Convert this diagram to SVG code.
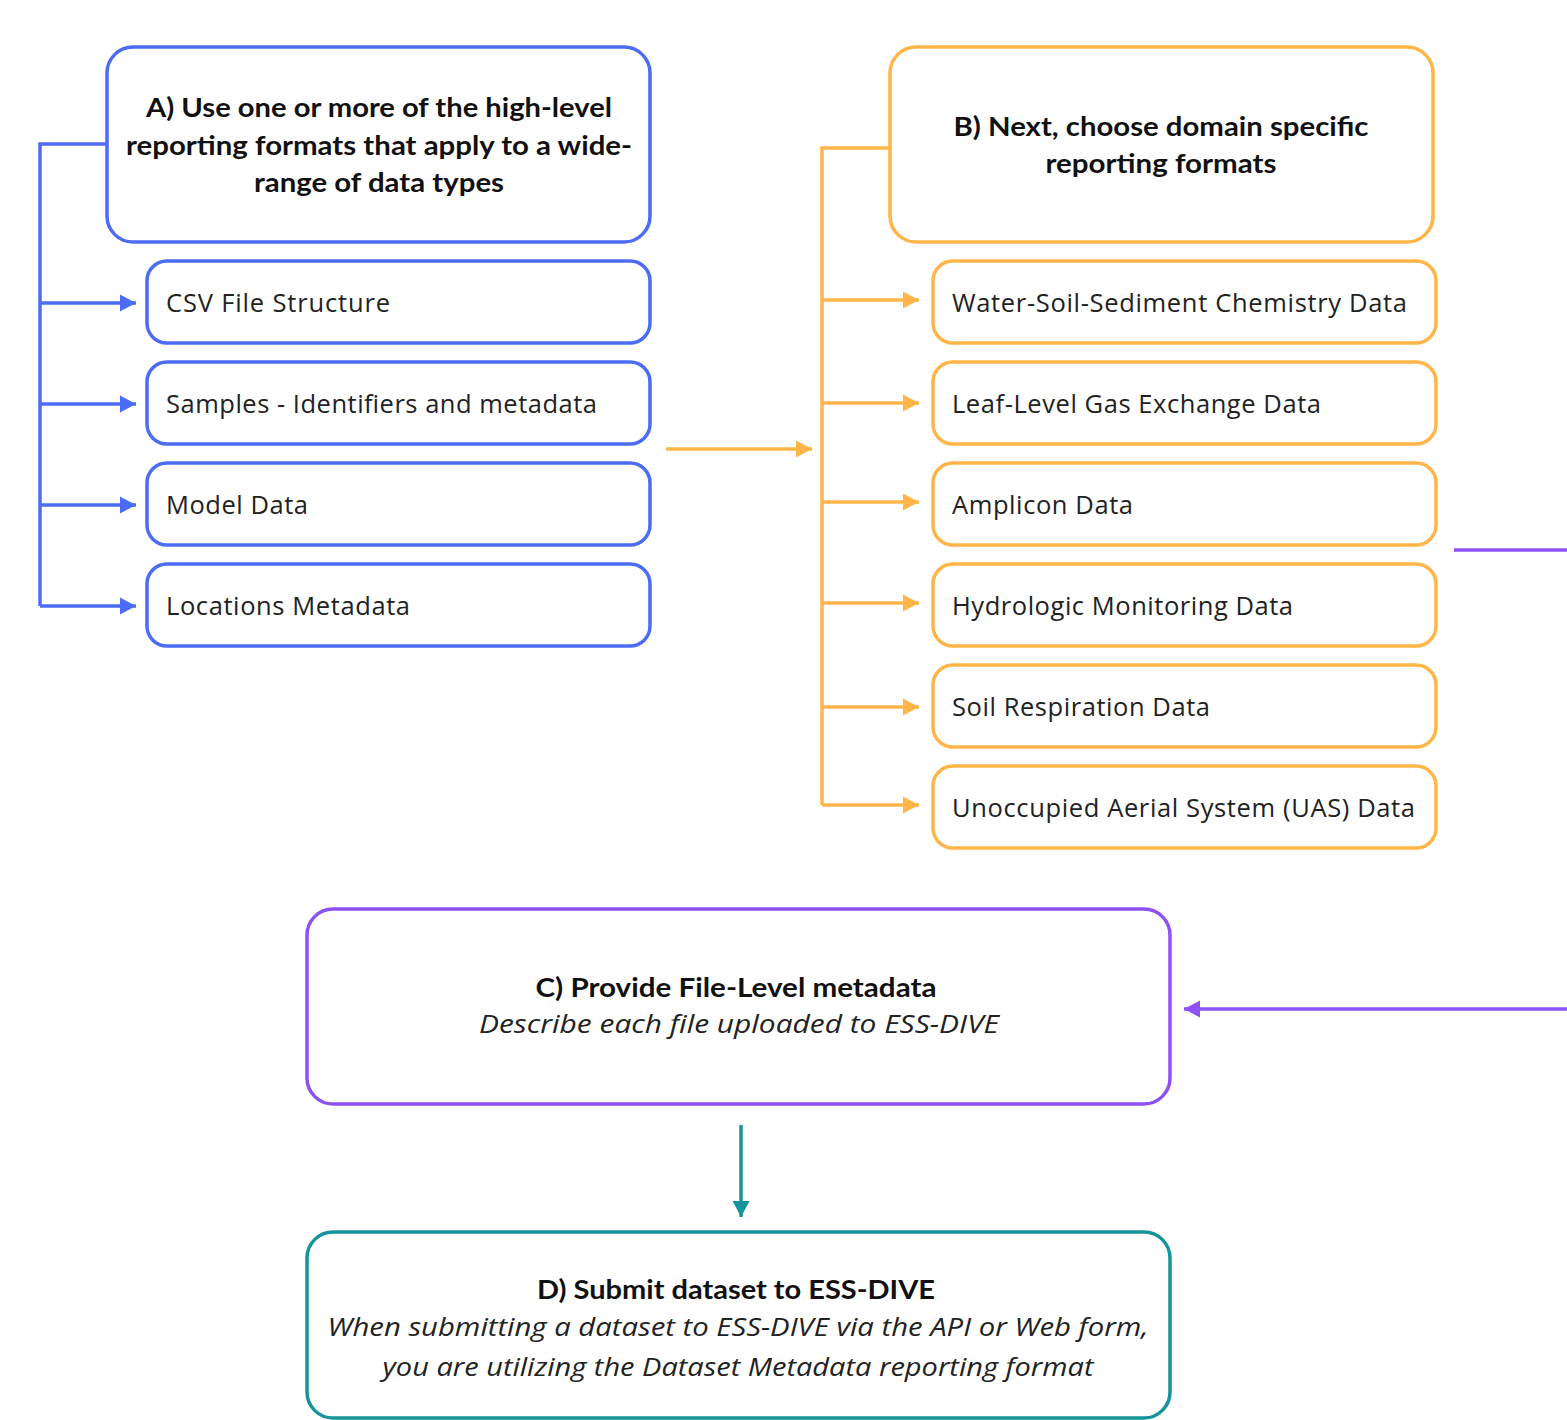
<svg xmlns="http://www.w3.org/2000/svg" width="1567" height="1420" viewBox="0 0 1567 1420">
<style>
.box{fill:#fff;stroke-width:3.5}
.blue{stroke:#4d6cf5}
.orange{stroke:#ffb548}
.purple{stroke:#8c52f5}
.teal{stroke:#15959b}
.ln{fill:none;stroke-width:3.5}
.t{font-family:"Open Sans","Noto Sans",sans-serif;font-size:25.5px;fill:#222}
.b{font-family:Lato,"Open Sans",sans-serif;font-weight:bold;font-size:26px;fill:#111}
.i{font-family:"Open Sans","Noto Sans",sans-serif;font-style:italic;font-size:25px;fill:#222}
</style>
<defs>
<marker id="ab" markerUnits="userSpaceOnUse" markerWidth="18" markerHeight="20" refX="16" refY="10" orient="auto"><path d="M0,1.5 L16,10 L0,18.5 Z" fill="#4d6cf5"/></marker>
<marker id="ao" markerUnits="userSpaceOnUse" markerWidth="18" markerHeight="20" refX="16" refY="10" orient="auto"><path d="M0,1.5 L16,10 L0,18.5 Z" fill="#ffb548"/></marker>
<marker id="ap" markerUnits="userSpaceOnUse" markerWidth="18" markerHeight="20" refX="16" refY="10" orient="auto"><path d="M0,1.5 L16,10 L0,18.5 Z" fill="#8c52f5"/></marker>
<marker id="at" markerUnits="userSpaceOnUse" markerWidth="18" markerHeight="20" refX="16" refY="10" orient="auto"><path d="M0,1.5 L16,10 L0,18.5 Z" fill="#15959b"/></marker>
</defs>

<g id="connectors">
<path class="ln blue" d="M107,144 H40 V606"/>
<line class="ln blue" x1="40" y1="303" x2="136" y2="303" marker-end="url(#ab)"/>
<line class="ln blue" x1="40" y1="404" x2="136" y2="404" marker-end="url(#ab)"/>
<line class="ln blue" x1="40" y1="505" x2="136" y2="505" marker-end="url(#ab)"/>
<line class="ln blue" x1="40" y1="606" x2="136" y2="606" marker-end="url(#ab)"/>
<path class="ln orange" d="M890,148 H822 V805"/>
<line class="ln orange" x1="822" y1="300" x2="919" y2="300" marker-end="url(#ao)"/>
<line class="ln orange" x1="822" y1="403" x2="919" y2="403" marker-end="url(#ao)"/>
<line class="ln orange" x1="822" y1="502" x2="919" y2="502" marker-end="url(#ao)"/>
<line class="ln orange" x1="822" y1="603" x2="919" y2="603" marker-end="url(#ao)"/>
<line class="ln orange" x1="822" y1="707" x2="919" y2="707" marker-end="url(#ao)"/>
<line class="ln orange" x1="822" y1="805" x2="919" y2="805" marker-end="url(#ao)"/>
<line class="ln orange" x1="666" y1="449" x2="812" y2="449" marker-end="url(#ao)"/>
<line class="ln purple" x1="1454" y1="550" x2="1567" y2="550"/>
<line class="ln purple" x1="1567" y1="1009" x2="1184" y2="1009" marker-end="url(#ap)"/>
<line class="ln teal" x1="741" y1="1125" x2="741" y2="1217" marker-end="url(#at)"/>
</g>

<g id="nodeA">
<rect class="box blue" x="107" y="47" width="543" height="195" rx="26"/>
<text class="b" x="379" y="117" text-anchor="middle" textLength="466" lengthAdjust="spacingAndGlyphs">A) Use one or more of the high-level</text>
<text class="b" x="379" y="155" text-anchor="middle" textLength="506" lengthAdjust="spacingAndGlyphs">reporting formats that apply to a wide-</text>
<text class="b" x="379" y="192" text-anchor="middle" textLength="250" lengthAdjust="spacingAndGlyphs">range of data types</text>
</g>
<g id="nodeA1"><rect class="box blue" x="147" y="261" width="503" height="82" rx="20"/><text class="t" x="166" y="312" textLength="224">CSV File Structure</text></g>
<g id="nodeA2"><rect class="box blue" x="147" y="362" width="503" height="82" rx="20"/><text class="t" x="166" y="413" textLength="431">Samples - Identifiers and metadata</text></g>
<g id="nodeA3"><rect class="box blue" x="147" y="463" width="503" height="82" rx="20"/><text class="t" x="166" y="514" textLength="142">Model Data</text></g>
<g id="nodeA4"><rect class="box blue" x="147" y="564" width="503" height="82" rx="20"/><text class="t" x="166" y="615" textLength="244">Locations Metadata</text></g>

<g id="nodeB">
<rect class="box orange" x="890" y="47" width="543" height="195" rx="26"/>
<text class="b" x="1161" y="136" text-anchor="middle" textLength="415" lengthAdjust="spacingAndGlyphs">B) Next, choose domain specific</text>
<text class="b" x="1161" y="173" text-anchor="middle" textLength="231" lengthAdjust="spacingAndGlyphs">reporting formats</text>
</g>
<g id="nodeB1"><rect class="box orange" x="933" y="261" width="503" height="82" rx="20"/><text class="t" x="952" y="312" textLength="455">Water-Soil-Sediment Chemistry Data</text></g>
<g id="nodeB2"><rect class="box orange" x="933" y="362" width="503" height="82" rx="20"/><text class="t" x="952" y="413" textLength="369">Leaf-Level Gas Exchange Data</text></g>
<g id="nodeB3"><rect class="box orange" x="933" y="463" width="503" height="82" rx="20"/><text class="t" x="952" y="514" textLength="181">Amplicon Data</text></g>
<g id="nodeB4"><rect class="box orange" x="933" y="564" width="503" height="82" rx="20"/><text class="t" x="952" y="615" textLength="341">Hydrologic Monitoring Data</text></g>
<g id="nodeB5"><rect class="box orange" x="933" y="665" width="503" height="82" rx="20"/><text class="t" x="952" y="716" textLength="258">Soil Respiration Data</text></g>
<g id="nodeB6"><rect class="box orange" x="933" y="766" width="503" height="82" rx="20"/><text class="t" x="952" y="817" textLength="463">Unoccupied Aerial System (UAS) Data</text></g>

<g id="nodeC">
<rect class="box purple" x="307" y="909" width="863" height="195" rx="26"/>
<text class="b" x="736" y="997" text-anchor="middle" textLength="401" lengthAdjust="spacingAndGlyphs">C) Provide File-Level metadata</text>
<text class="i" x="739" y="1033" text-anchor="middle" textLength="520" lengthAdjust="spacingAndGlyphs">Describe each file uploaded to ESS-DIVE</text>
</g>

<g id="nodeD">
<rect class="box teal" x="307" y="1232" width="863" height="186" rx="26"/>
<text class="b" x="736" y="1299" text-anchor="middle" textLength="398" lengthAdjust="spacingAndGlyphs">D) Submit dataset to ESS-DIVE</text>
<text class="i" x="738" y="1336" text-anchor="middle" textLength="821" lengthAdjust="spacingAndGlyphs">When submitting a dataset to ESS-DIVE via the API or Web form,</text>
<text class="i" x="738" y="1376" text-anchor="middle" textLength="711" lengthAdjust="spacingAndGlyphs">you are utilizing the Dataset Metadata reporting format</text>
</g>
</svg>
